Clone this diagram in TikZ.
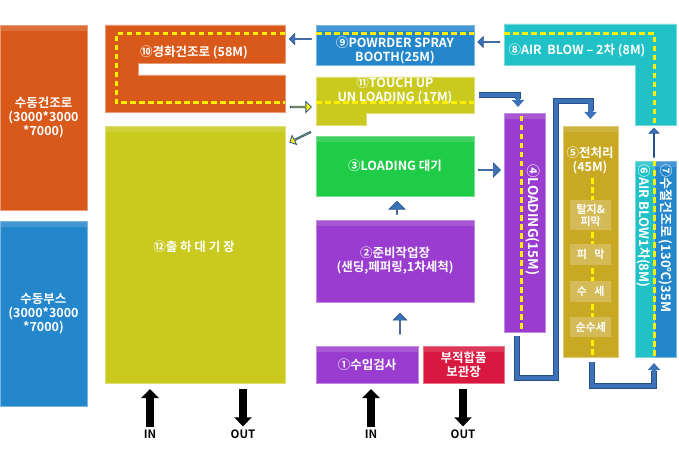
\documentclass[tikz,border=0pt]{standalone}
\usepackage{fontspec}
\setmainfont{Noto Sans CJK KR}[BoldFont={Noto Sans CJK KR Bold}]
\usetikzlibrary{arrows.meta,shapes.arrows,calc}
\definecolor{corange}{HTML}{D9591A}
\definecolor{cblue}{HTML}{2587CB}
\definecolor{cygreen}{HTML}{C9C91E}
\definecolor{cgreen}{HTML}{1FCC47}
\definecolor{cpurple}{HTML}{9A3CCF}
\definecolor{cred}{HTML}{D8183E}
\definecolor{ccyan}{HTML}{20C2C8}
\definecolor{cgold}{HTML}{C9A823}
\definecolor{csub}{HTML}{D4BB58}
\definecolor{abl}{HTML}{3D72B8}
\definecolor{abd}{HTML}{24508C}
\definecolor{dashy}{HTML}{FFF000}
\begin{document}
\begin{tikzpicture}[x=1pt,y=-1pt,
  box/.style={anchor=north west, inner sep=0pt, outer sep=0pt, fill=#1, draw=#1!60!white, line width=0.6pt,
    path picture={\fill[white, opacity=0.14] ([yshift=-1pt]path picture bounding box.north west) rectangle ([yshift=-6pt]path picture bounding box.north east);}},
  lshape/.style={fill=#1, draw=#1!60!white, line width=0.6pt},
  lbl/.style={text=white, font=\bfseries\fontsize{12.5}{14}\selectfont, align=center, inner sep=0pt},
  vlbl/.style={text=white, font=\bfseries\fontsize{13}{14}\selectfont, inner sep=0pt, rotate=-90, anchor=west},
  sublbl/.style={text=white, font=\bfseries\fontsize{11}{12.5}\selectfont, align=center},
  subbox/.style={anchor=north west, inner sep=0pt, fill=csub, minimum width=41pt},
  ydash/.style={draw=dashy, line width=3pt, dash pattern=on 5.5pt off 3.5pt},
  barrow/.style={single arrow, draw=abd, fill=abl, line width=0.6pt, inner sep=0pt, single arrow head indent=0pt},
  yarrow/.style={single arrow, draw=abd, fill=yellow, line width=0.8pt, inner sep=0pt, single arrow head indent=0pt},
  pipe/.style={draw=abl, line width=4.5pt, -{Triangle[width=12pt,length=7pt]}},
  pipeo/.style={draw=abd, line width=6pt},
  karrow/.style={draw=black, line width=8pt, -{Triangle[width=17pt,length=9pt]}},
  iolbl/.style={font=\bfseries\fontsize{11.5}{13}\selectfont, text=black, inner sep=0pt}
]
\useasboundingbox (0,0) rectangle (679,473);

% left column
\node[box=corange, minimum width=87pt, minimum height=185pt] (hdry) at (0,25) {};
\node[lbl] at (hdry.center) {수동건조로\\(3000*3000\\*7000)};
\node[box=cblue, minimum width=87pt, minimum height=185pt] (hbooth) at (0,221) {};
\node[lbl] at (hbooth.center) {수동부스\\(3000*3000\\*7000)};

% 10 cure oven (notched)
\path[lshape=corange] (105,25) -- (285,25) -- (285,63) -- (138,63) -- (138,75) -- (285,75) -- (285,112) -- (105,112) -- cycle;
\coordinate (cureE) at (285,40);
\coordinate (cureE2) at (285,107);
\draw[ydash] (285,34) -- (116,34) -- (116,103) -- (285,103);
\node[lbl] (curet) at (194,52) {⑩경화건조로 (58M)};

% 12 shipping
\node[box=cygreen, minimum width=180pt, minimum height=257pt] (ship) at (105,126) {};
\node[lbl] (shipt) at (194,247) {⑫출\ 하\ 대\ 기\ 장};

% 9 booth
\node[box=cblue, minimum width=158pt, minimum height=40pt] (booth) at (316,25) {};
\draw[ydash] (316,34) -- (474,34);
\node[lbl] at (395,50) {⑨POWRDER SPRAY\\BOOTH(25M)};

% 8 air blow 2
\path[lshape=ccyan] (504,24) -- (676,24) -- (676,125) -- (635,125) -- (635,65) -- (504,65) -- cycle;
\coordinate (ab2W) at (504,42);
\coordinate (ab2S) at (654,125);
\draw[ydash] (504,34) -- (654,34) -- (654,125);
\node[lbl] at (577,50) {⑧AIR\ \ BLOW – 2차 (8M)};

% 11 touch up
\path[lshape=cygreen] (316,77) -- (474,77) -- (474,113) -- (366,113) -- (366,125) -- (316,125) -- cycle;
\coordinate (touchW) at (316,107);
\coordinate (touchE) at (474,95);
\draw[ydash] (316,103) -- (474,103);
\node[lbl] at (395,90) {⑪TOUCH UP\\UN LOADING (17M)};

% 3 loading wait
\node[box=cgreen, minimum width=158pt, minimum height=60pt] (wait) at (316,136) {};
\node[lbl] at (wait.center) {③LOADING 대기};

% 2 prep
\node[box=cpurple, minimum width=158pt, minimum height=82pt] (prep) at (316,220) {};
\node[lbl] at (prep.center) {②준비작업장\\(샌딩,페퍼링,1차세척)};

% 1 inspection, reject
\node[box=cpurple, minimum width=102pt, minimum height=37pt] (insp) at (316,346) {};
\node[lbl] at (insp.center) {①수입검사};
\node[box=cred, minimum width=81pt, minimum height=37pt] (rej) at (423,346) {};
\node[lbl] at (rej.center) {부적합품\\보관장};

% 4 loading
\node[box=cpurple, minimum width=41pt, minimum height=219pt] (load) at (504,113) {};
\draw[ydash] (521,116) -- (521,332);
\node[vlbl, font=\bfseries\fontsize{13.5}{14}\selectfont] at (533,164) {④LOADING(15M)};

% 5 pretreatment
\node[box=cgold, minimum width=55pt, minimum height=231pt] (pre) at (563,126) {};
\draw[ydash] (592,178) -- (592,357);
\node[lbl] at (590,160) {⑤전처리\\(45M)};
\node[subbox, minimum height=30pt] (s1) at (570,200) {};
\node[sublbl] at (s1.center) {탈지\&\\피막};
\node[subbox, minimum height=21pt] (s2) at (570,244) {};
\node[sublbl] at (s2.center) {피\ \ \ 막};
\node[subbox, minimum height=21pt] (s3) at (570,281) {};
\node[sublbl] at (s3.center) {수\ \ \ 세};
\node[subbox, minimum height=20pt] (s4) at (570,317) {};
\node[sublbl] at (s4.center) {순수세};

% 6 / 7
\node[box=ccyan, minimum width=19pt, minimum height=196pt] (ab1) at (635,161) {};
\node[box=cblue, minimum width=22pt, minimum height=196pt] (wdry) at (654,161) {};
\draw[ydash] (654,161) -- (654,357);
\node[vlbl] at (644,164) {⑥AIR BLOW1차(8M)};
\node[vlbl] at (666,164) {⑦수절건조로 (130℃)35M};

% block arrows
\node[barrow, minimum height=22pt, minimum width=11pt, single arrow head extend=2.5pt, shape border rotate=180] at ($([yshift=7pt]booth.west)!0.5!(cureE)$) {};
\node[barrow, minimum height=22pt, minimum width=11pt, single arrow head extend=2.5pt, shape border rotate=180] at ($(ab2W)!0.5!(booth.east |- ab2W)$) {};
\node[barrow, minimum height=22pt, minimum width=14pt, single arrow head extend=3pt] at ($(wait.east |- 0,170)!0.5!(load.west |- 0,170)$) {};
\node[barrow, minimum height=13pt, minimum width=16pt, single arrow head extend=4pt, shape border rotate=90] at ($([xshift=2pt]prep.north)!0.5!([xshift=2pt]wait.south)$) {};
\node[barrow, minimum height=21pt, minimum width=14pt, single arrow head extend=3pt, shape border rotate=90] at ($([xshift=5pt]prep.south)!0.5!([xshift=5pt]prep.south |- insp.north)$) {};
\node[barrow, minimum height=29pt, minimum width=10pt, single arrow head extend=2.5pt, shape border rotate=90] at ($(ab2S)!0.5!(wdry.north west)$) {};

% yellow arrows
\node[yarrow, minimum height=21pt, minimum width=11pt, single arrow head extend=2.5pt] at ($(cureE2)!0.5!(touchW)$) {};
\node[yarrow, minimum height=23pt, minimum width=10pt, single arrow head extend=2.5pt, rotate=-154] at ($(touchW |- 0,148)!0.5!(ship.north east)$) {};

% pipes
\draw[pipeo] ([xshift=5pt]touchE) -| ([xshift=-6.5pt,yshift=14pt]load.north);
\draw[pipe] ([xshift=5pt]touchE) -| ([xshift=-6.5pt,yshift=6pt]load.north);
\draw[pipeo] ([xshift=-7.5pt,yshift=-4pt]load.south) |- (556,378) |- ([yshift=25pt]pre.north) -- ([yshift=15pt]pre.north);
\draw[pipe] ([xshift=-7.5pt,yshift=-4pt]load.south) |- (556,378) |- ([yshift=25pt]pre.north) -- ([yshift=7pt]pre.north);
\draw[pipeo] ([xshift=1.5pt,yshift=-5pt]pre.south) |- ([yshift=-29pt]ab1.south east) -- ([yshift=-14pt]ab1.south east);
\draw[pipe] ([xshift=1.5pt,yshift=-5pt]pre.south) |- ([yshift=-29pt]ab1.south east) -- ([yshift=-6pt]ab1.south east);

% IN / OUT
\node[iolbl] (in1) at (150,434) {IN};
\node[iolbl] (out1) at (243,434) {OUT};
\node[iolbl] (in2) at (371,434) {IN};
\node[iolbl] (out2) at (463,434) {OUT};
\draw[karrow] ([yshift=3pt]in1.north) -- ([yshift=-6pt]in1.north |- ship.south);
\draw[karrow] ([yshift=-6pt]out1.north |- ship.south) -- ([yshift=3pt]out1.north);
\draw[karrow] ([yshift=3pt]in2.north) -- ([yshift=-6pt]in2.north |- insp.south);
\draw[karrow] ([yshift=-6pt]out2.north |- rej.south) -- ([yshift=3pt]out2.north);
\end{tikzpicture}
\end{document}
